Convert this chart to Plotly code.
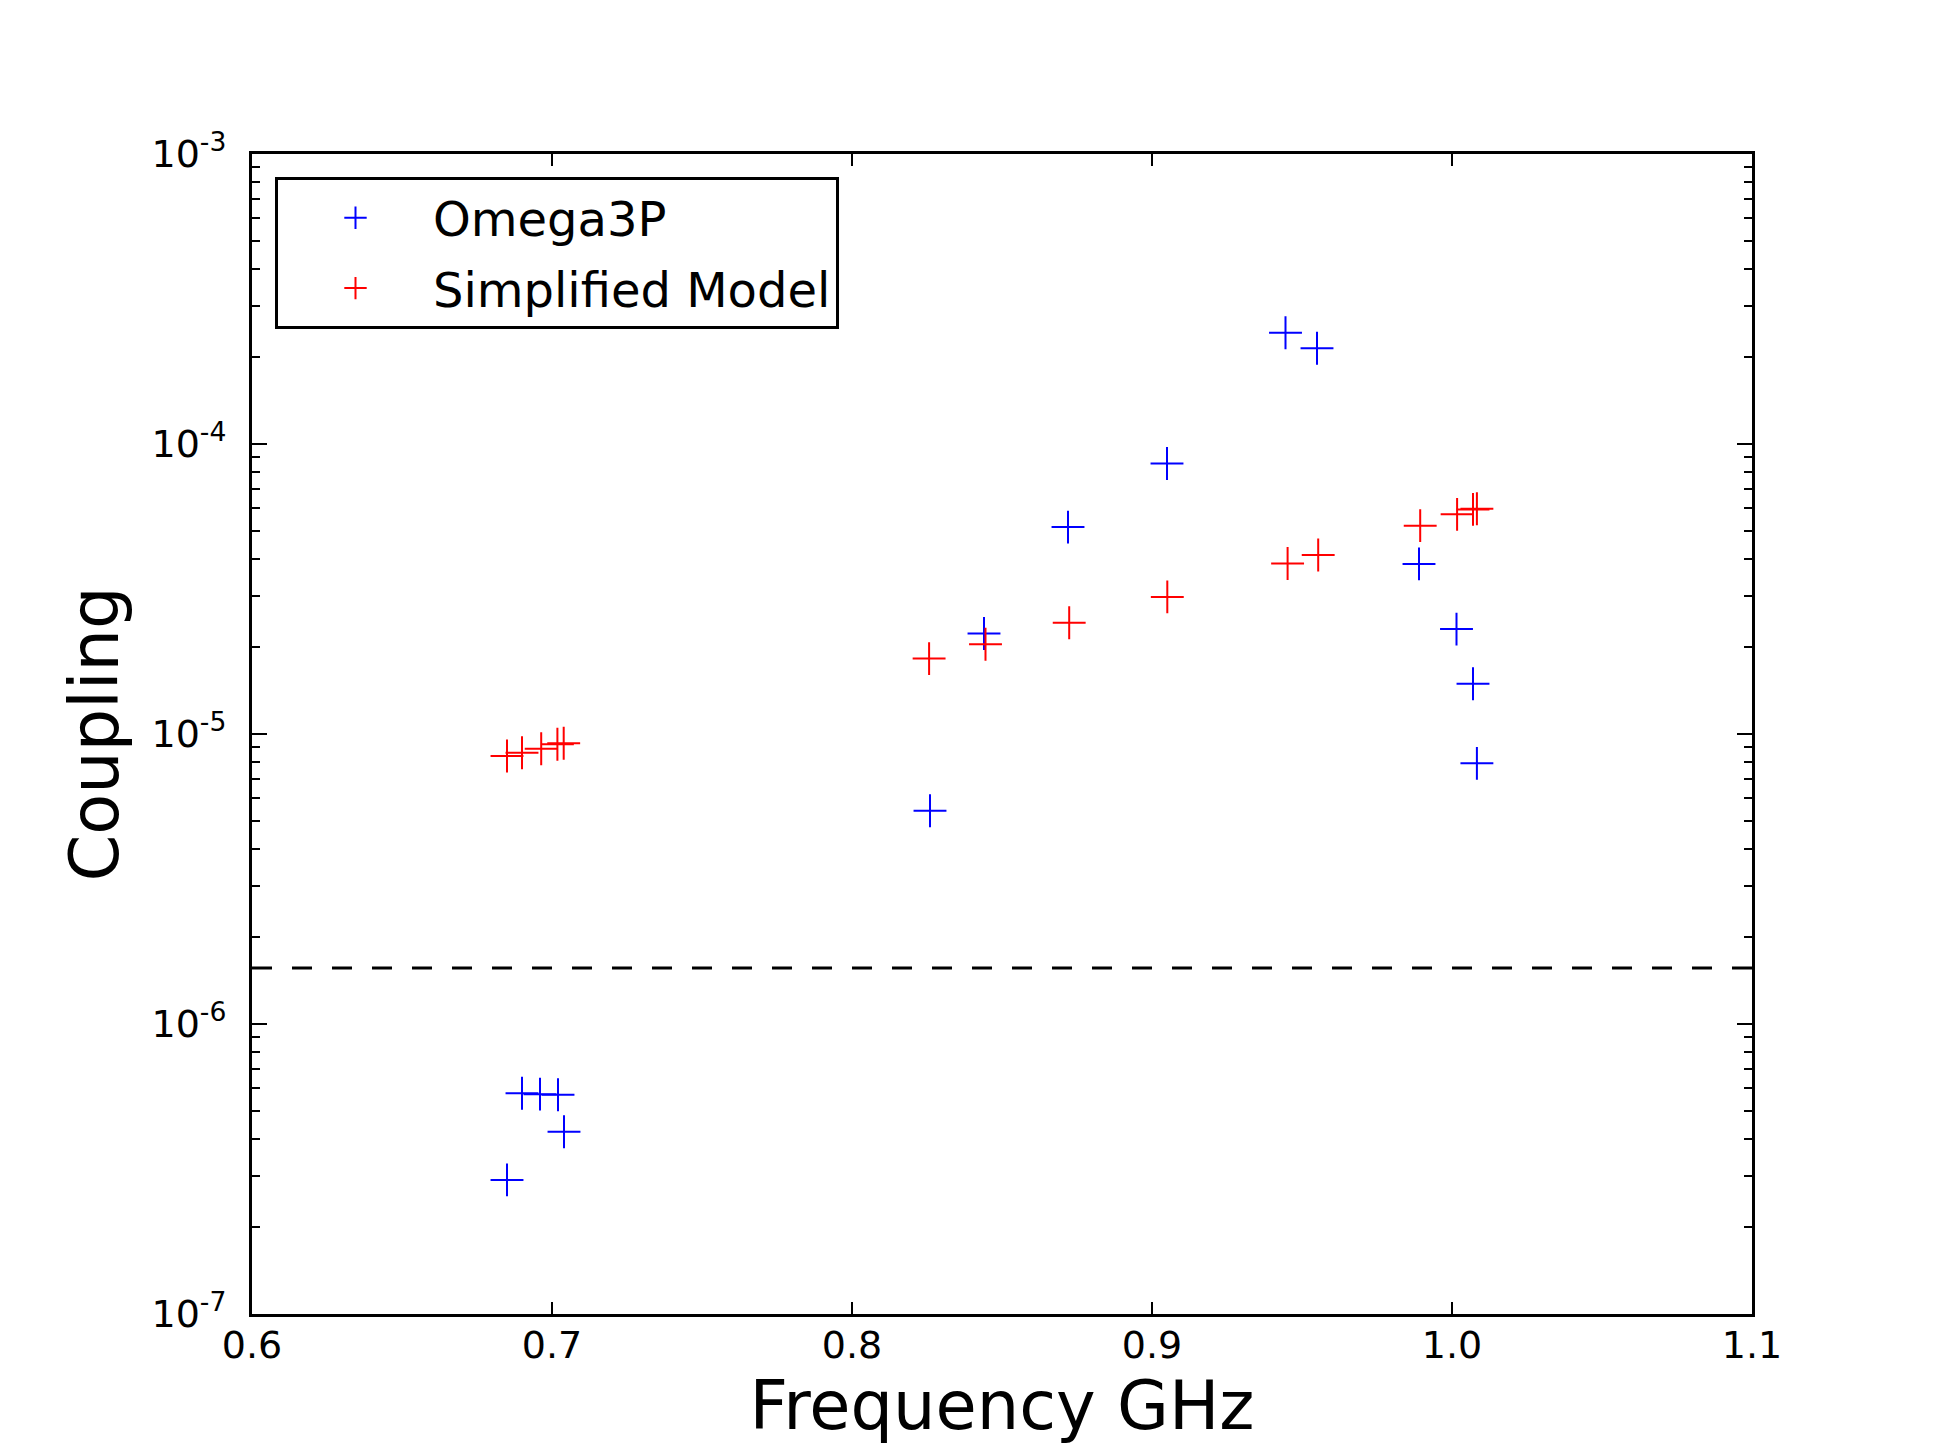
import plotly.graph_objects as go

# ---- data ----
omega_freq = [0.685, 0.690, 0.696, 0.702, 0.704, 0.826, 0.844, 0.872, 0.905,
              0.9445, 0.955, 0.989, 1.0015, 1.007, 1.0083]
omega_coupling = [2.90e-7, 5.77e-7, 5.73e-7, 5.70e-7, 4.25e-7, 5.44e-6, 2.22e-5,
                  5.17e-5, 8.57e-5, 2.42e-4, 2.14e-4, 3.86e-5, 2.30e-5, 1.49e-5, 7.92e-6]

simple_freq = [0.685, 0.690, 0.6964, 0.7018, 0.7039, 0.8257, 0.8445, 0.8724, 0.9051,
               0.9452, 0.9554, 0.9894, 1.0017, 1.007, 1.0083]
simple_coupling = [8.40e-6, 8.62e-6, 8.90e-6, 9.22e-6, 9.29e-6, 1.82e-5, 2.04e-5,
                   2.42e-5, 2.97e-5, 3.87e-5, 4.14e-5, 5.23e-5, 5.72e-5, 5.95e-5, 5.98e-5]

threshold = 1.56e-6
x_range = [0.6, 1.1]

y_tick_vals = [1e-7, 1e-6, 1e-5, 1e-4, 1e-3]
y_tick_text = ["10<sup>-7</sup>", "10<sup>-6</sup>", "10<sup>-5</sup>",
               "10<sup>-4</sup>", "10<sup>-3</sup>"]
y_minor_vals = [k * d for d in [1e-7, 1e-6, 1e-5, 1e-4] for k in range(2, 10)]

FONT = "DejaVu Sans"

fig = go.Figure()

fig.add_trace(go.Scatter(
    x=x_range, y=[threshold, threshold], mode="lines",
    line=dict(color="black", width=3, dash="20px,20px"),
    showlegend=False, hoverinfo="skip"))

fig.add_trace(go.Scatter(
    x=omega_freq, y=omega_coupling, mode="markers", name="Omega3P",
    legendgroup="a",
    marker=dict(symbol="cross-thin", size=23.5, color="#0000ff",
                line=dict(color="#0000ff", width=2))))

fig.add_trace(go.Scatter(
    x=simple_freq, y=simple_coupling, mode="markers", name="Simplified Model",
    legendgroup="b",
    marker=dict(symbol="cross-thin", size=23.5, color="#ff0000",
                line=dict(color="#ff0000", width=2))))

# page body has an 8px margin, so the figure is a bit smaller than the window
W, H = 1922, 1437
ML, MT = 244, 146
pw, ph = 1500, 1160
MR, MB = W - ML - pw, H - MT - ph

axis_common = dict(
    showline=True, linecolor="black", linewidth=3, mirror="allticks",
    ticks="inside", tickcolor="black", tickwidth=1.5,
    showgrid=False, zeroline=False,
    tickfont=dict(family=FONT, size=38, color="black"),
)

fig.update_xaxes(
    **axis_common, range=x_range, dtick=0.1, tick0=0.6, tickformat=".1f",
    ticklen=12, ticklabelstandoff=-5,
    title=dict(text="Frequency GHz", font=dict(family=FONT, size=67, color="black"),
               standoff=10))

fig.update_yaxes(
    **axis_common, type="log", range=[-7, -3],
    tickmode="array", tickvals=y_tick_vals, ticktext=y_tick_text, ticklen=15,
    ticklabelstandoff=15,
    minor=dict(tickmode="array", tickvals=y_minor_vals, ticks="inside",
               ticklen=8, tickwidth=1.5, tickcolor="black", showgrid=False),
    title=dict(text="Coupling", font=dict(family=FONT, size=67, color="black"),
               standoff=12))

fig.update_layout(
    width=W, height=H, autosize=False,
    margin=dict(l=ML, r=MR, t=MT, b=MB, pad=0),
    paper_bgcolor="white", plot_bgcolor="white",
    font=dict(family=FONT, color="black"),
    legend=dict(
        x=(275 - 252) / pw, y=1 - (177 - 154) / ph, xanchor="left", yanchor="top",
        bgcolor="white", bordercolor="black", borderwidth=3,
        font=dict(family=FONT, size=48, color="black"),
        itemwidth=145, traceorder="grouped", tracegroupgap=5),
)

fig.write_html("out.html")
